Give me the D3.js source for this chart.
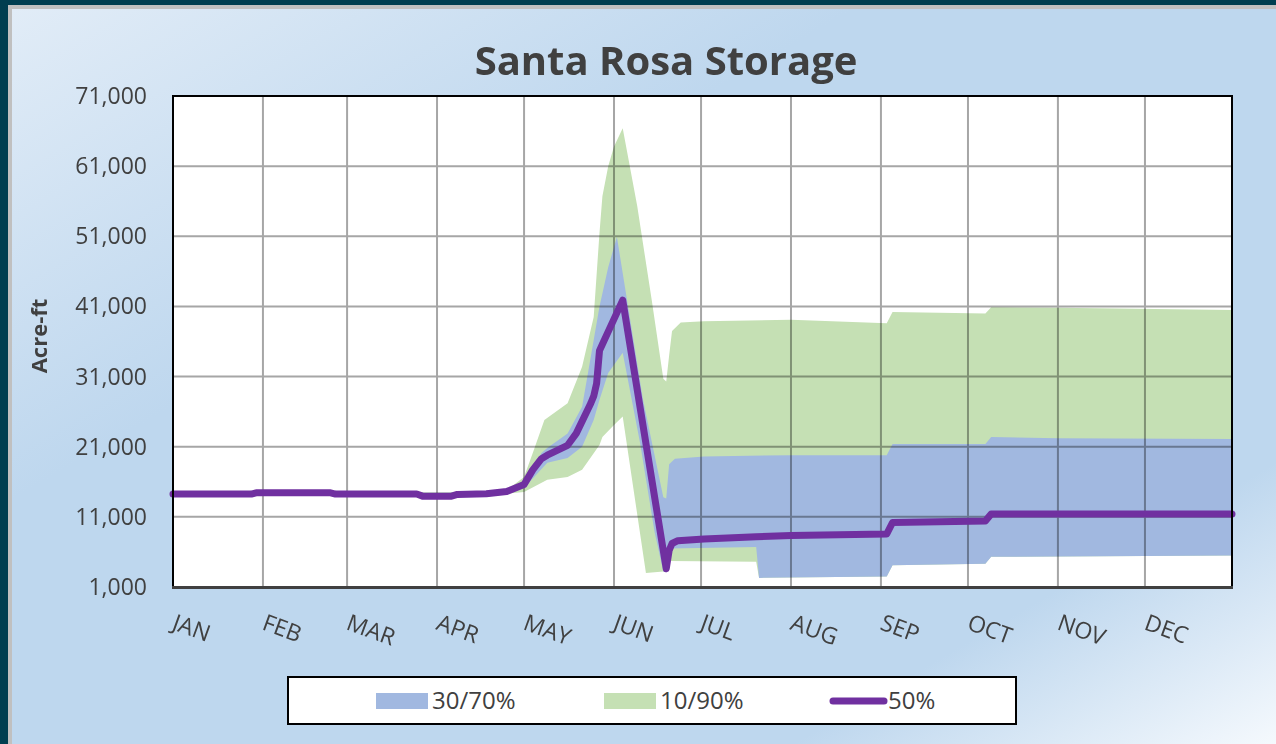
<!DOCTYPE html>
<html>
<head>
<meta charset="utf-8">
<script src="https://cdn.jsdelivr.net/npm/d3@7"></script>
<style>
  body { margin: 0; background: #003e50; }
  svg { display: block; font-family: "Open Sans", sans-serif; }
</style>
</head>
<body>
<div id="viscontainer"></div>
<script>
const months = ["JAN", "FEB", "MAR", "APR", "MAY", "JUN", "JUL", "AUG", "SEP", "OCT", "NOV", "DEC"];
const yTicks = [1000, 11000, 21000, 31000, 41000, 51000, 61000, 71000];
const seriesNames = ["30/70%", "10/90%", "50%"];

// 50% exceedance (median)
const p50 = [
  ["2024-01-01", 14250], ["2024-01-28", 14250], ["2024-01-30", 14450], ["2024-02-24", 14450],
  ["2024-02-26", 14250], ["2024-03-25", 14250], ["2024-03-27", 13950], ["2024-04-06", 13950],
  ["2024-04-08", 14200], ["2024-04-18", 14300], ["2024-04-25", 14600], ["2024-05-01", 15600],
  ["2024-05-04", 17700], ["2024-05-07", 19300], ["2024-05-09", 19800], ["2024-05-16", 21200],
  ["2024-05-19", 22900], ["2024-05-24", 27200], ["2024-05-25", 28200], ["2024-05-26", 30000],
  ["2024-05-27", 34700], ["2024-05-28", 35600], ["2024-06-04", 41900], ["2024-06-19", 3600],
  ["2024-06-20", 6200], ["2024-06-21", 7200], ["2024-06-23", 7600], ["2024-07-02", 7850],
  ["2024-07-20", 8150], ["2024-08-01", 8350], ["2024-09-03", 8550], ["2024-09-05", 10200],
  ["2024-10-07", 10400], ["2024-10-09", 11400], ["2024-12-31", 11400]
];

// 70% band edge (upper of blue)
const p70 = [
  ["2024-01-01", 14400], ["2024-04-18", 14450], ["2024-04-25", 15000], ["2024-05-01", 15800],
  ["2024-05-07", 20100], ["2024-05-09", 20800], ["2024-05-16", 22900], ["2024-05-21", 26700],
  ["2024-05-25", 36200], ["2024-05-27", 41000], ["2024-05-30", 46600], ["2024-06-02", 50900],
  ["2024-06-11", 27700], ["2024-06-18", 13800], ["2024-06-19", 13600], ["2024-06-20", 18500],
  ["2024-06-22", 19300], ["2024-07-02", 19600], ["2024-08-01", 19800], ["2024-09-03", 19800],
  ["2024-09-05", 21400], ["2024-10-07", 21400], ["2024-10-09", 22400], ["2024-11-01", 22200],
  ["2024-12-31", 22100]
];

// 30% band edge (lower of blue)
const p30 = [
  ["2024-01-01", 14100], ["2024-04-18", 14150], ["2024-04-25", 14450], ["2024-05-01", 15100],
  ["2024-05-09", 18700], ["2024-05-16", 19400], ["2024-05-21", 21000], ["2024-05-25", 24800],
  ["2024-05-27", 27700], ["2024-05-30", 31500], ["2024-06-04", 34400], ["2024-06-10", 21500],
  ["2024-06-15", 8800], ["2024-06-18", 3200], ["2024-06-19", 3100], ["2024-06-20", 6500],
  ["2024-07-20", 6700], ["2024-07-21", 2300], ["2024-09-03", 2500], ["2024-09-05", 4100],
  ["2024-10-07", 4300], ["2024-10-09", 5300], ["2024-12-31", 5500]
];

// 90% band edge (upper of green)
const p90 = [
  ["2024-01-01", 14450], ["2024-04-18", 14500], ["2024-04-25", 14800], ["2024-05-01", 16700],
  ["2024-05-04", 20100], ["2024-05-08", 24800], ["2024-05-16", 27200], ["2024-05-21", 32400],
  ["2024-05-25", 39500], ["2024-05-27", 51500], ["2024-05-28", 56700], ["2024-05-30", 61000],
  ["2024-06-01", 63800], ["2024-06-04", 66400], ["2024-06-09", 55300], ["2024-06-14", 41900],
  ["2024-06-18", 30700], ["2024-06-19", 30300], ["2024-06-20", 34000], ["2024-06-21", 37500],
  ["2024-06-24", 38700], ["2024-07-02", 38900], ["2024-08-01", 39100], ["2024-09-03", 38600],
  ["2024-09-05", 40200], ["2024-10-07", 40000], ["2024-10-09", 40900], ["2024-11-01", 40800],
  ["2024-12-31", 40500]
];

// 10% band edge (lower of green)
const p10 = [
  ["2024-01-01", 14000], ["2024-04-18", 14050], ["2024-04-25", 14300], ["2024-05-01", 14550],
  ["2024-05-09", 16300], ["2024-05-16", 16700], ["2024-05-21", 17700], ["2024-05-27", 21250],
  ["2024-05-28", 22400], ["2024-06-01", 24100], ["2024-06-04", 25300], ["2024-06-12", 3000],
  ["2024-06-18", 3200], ["2024-06-19", 3300], ["2024-06-20", 4700], ["2024-07-20", 4600],
  ["2024-07-21", 2300], ["2024-09-03", 2500], ["2024-09-05", 4100], ["2024-10-07", 4300],
  ["2024-10-09", 5300], ["2024-12-31", 5500]
];

function makeVis() {
  const width = 1276;
  const height = 744;
  const marginTop = 96;
  const marginRight = 44;
  const marginBottom = 157;
  const marginLeft = 173;

  const parse = d3.timeParse("%Y-%m-%d");
  const toPts = (arr) => arr.map(([d, v]) => ({ date: parse(d), value: v }));

  const svg = d3.create("svg").attr("width", width).attr("height", height);
  d3.select("#viscontainer").append(() => svg.node());

  const defs = svg.append("defs");
  const grad = defs.append("linearGradient")
    .attr("id", "bg").attr("x1", 0).attr("y1", 0).attr("x2", 1).attr("y2", 1);
  grad.append("stop").attr("offset", "0").attr("stop-color", "#e1ecf7");
  grad.append("stop").attr("offset", "0.33").attr("stop-color", "#bed7ee");
  grad.append("stop").attr("offset", "0.8").attr("stop-color", "#bed7ee");
  grad.append("stop").attr("offset", "1").attr("stop-color", "#f8fbfe");

  // frame + panel
  svg.append("rect").attr("x", 0).attr("y", 0).attr("width", width).attr("height", height).attr("fill", "#003e50");
  svg.append("rect").attr("x", 8).attr("y", 5).attr("width", width).attr("height", height).attr("fill", "#c0c0c0");
  svg.append("rect").attr("x", 12).attr("y", 9).attr("width", width).attr("height", height).attr("fill", "url(#bg)");

  const xScale = d3.scaleTime()
    .domain([parse("2024-01-01"), parse("2024-12-31")])
    .range([marginLeft, width - marginRight]);
  const yScale = d3.scaleLinear()
    .domain([yTicks[0], yTicks[yTicks.length - 1]])
    .range([height - marginBottom, marginTop]);

  const x0 = marginLeft, x1 = width - marginRight;
  const y0 = height - marginBottom, y1 = marginTop;

  defs.append("clipPath").attr("id", "plotclip")
    .append("rect").attr("x", x0).attr("y", y1).attr("width", x1 - x0).attr("height", y0 - y1);

  svg.append("rect").attr("x", x0).attr("y", y1).attr("width", x1 - x0).attr("height", y0 - y1).attr("fill", "#fff");

  // bands drawn as closed polygons: upper edge then lower edge reversed
  const edge = d3.line().x((d) => xScale(d.date)).y((d) => yScale(d.value));
  const band = (upper, lower) => edge(toPts(upper).concat(toPts(lower).reverse())) + "Z";

  const plot = svg.append("g").attr("clip-path", "url(#plotclip)");
  plot.append("path").attr("d", band(p90, p10)).attr("fill", "#c5e0b4");
  plot.append("path").attr("d", band(p70, p30)).attr("fill", "#a1b8e0");

  // gridlines
  const grid = svg.append("g").style("mix-blend-mode", "multiply")
    .attr("stroke", "#a6a6a6").attr("stroke-width", 2);
  const monthStarts = d3.timeMonth.range(parse("2024-01-01"), parse("2024-12-31"));
  grid.selectAll("line.v").data(monthStarts.slice(1)).join("line")
    .attr("x1", (d) => xScale(d)).attr("x2", (d) => xScale(d))
    .attr("y1", y1).attr("y2", y0);
  grid.selectAll("line.h").data(yTicks.slice(1, -1)).join("line")
    .attr("x1", x0).attr("x2", x1)
    .attr("y1", (d) => yScale(d)).attr("y2", (d) => yScale(d));

  // median line
  svg.append("path")
    .attr("d", edge(toPts(p50)))
    .attr("fill", "none")
    .attr("stroke", "#7030a0")
    .attr("stroke-width", 7)
    .attr("stroke-linejoin", "round")
    .attr("stroke-linecap", "round");

  // plot border
  svg.append("path")
    .attr("d", `M${x0},${y0}V${y1}H${x1}V${y0}`)
    .attr("fill", "none").attr("stroke", "#000").attr("stroke-width", 2);
  svg.append("line")
    .attr("x1", x0 - 1).attr("x2", x1 + 1).attr("y1", y0 + 0.5).attr("y2", y0 + 0.5)
    .attr("stroke", "#404040").attr("stroke-width", 3);

  // y tick labels
  svg.append("g").selectAll("text").data(yTicks).join("text")
    .attr("x", 147)
    .attr("y", (d) => yScale(d))
    .attr("dy", "0.35em")
    .attr("text-anchor", "end")
    .attr("font-size", 23)
    .attr("fill", "#404040")
    .text((d) => d3.format(",")(d));

  // month labels
  svg.append("g").selectAll("text").data(monthStarts).join("text")
    .attr("transform", (d) => `translate(${xScale(d) - 2},${629}) rotate(20)`)
    .attr("font-size", 23)
    .attr("fill", "#404040")
    .text((d, i) => months[i]);

  // titles
  svg.append("text")
    .attr("x", 666).attr("y", 75)
    .attr("text-anchor", "middle")
    .attr("font-size", 40).attr("font-weight", "bold")
    .attr("fill", "#404040")
    .text("Santa Rosa Storage");

  svg.append("text")
    .attr("transform", "translate(47,336) rotate(-90)")
    .attr("text-anchor", "middle")
    .attr("font-size", 22).attr("font-weight", "bold")
    .attr("fill", "#404040")
    .text("Acre-ft");

  // legend
  const lg = svg.append("g");
  lg.append("rect").attr("x", 288).attr("y", 677).attr("width", 728).attr("height", 47)
    .attr("fill", "#fff").attr("stroke", "#000").attr("stroke-width", 2);
  lg.append("rect").attr("x", 376).attr("y", 693).attr("width", 52).attr("height", 16).attr("fill", "#a1b8e0");
  lg.append("rect").attr("x", 604).attr("y", 693).attr("width", 52).attr("height", 16).attr("fill", "#c5e0b4");
  lg.append("line").attr("x1", 833).attr("x2", 884).attr("y1", 701).attr("y2", 701)
    .attr("stroke", "#7030a0").attr("stroke-width", 7).attr("stroke-linecap", "round");
  lg.selectAll("text").data(seriesNames).join("text")
    .attr("x", (d, i) => [432, 660, 888][i])
    .attr("y", 701)
    .attr("dy", "0.35em")
    .attr("font-size", 24)
    .attr("fill", "#404040")
    .text((d) => d);
}

makeVis();
</script>
</body>
</html>
